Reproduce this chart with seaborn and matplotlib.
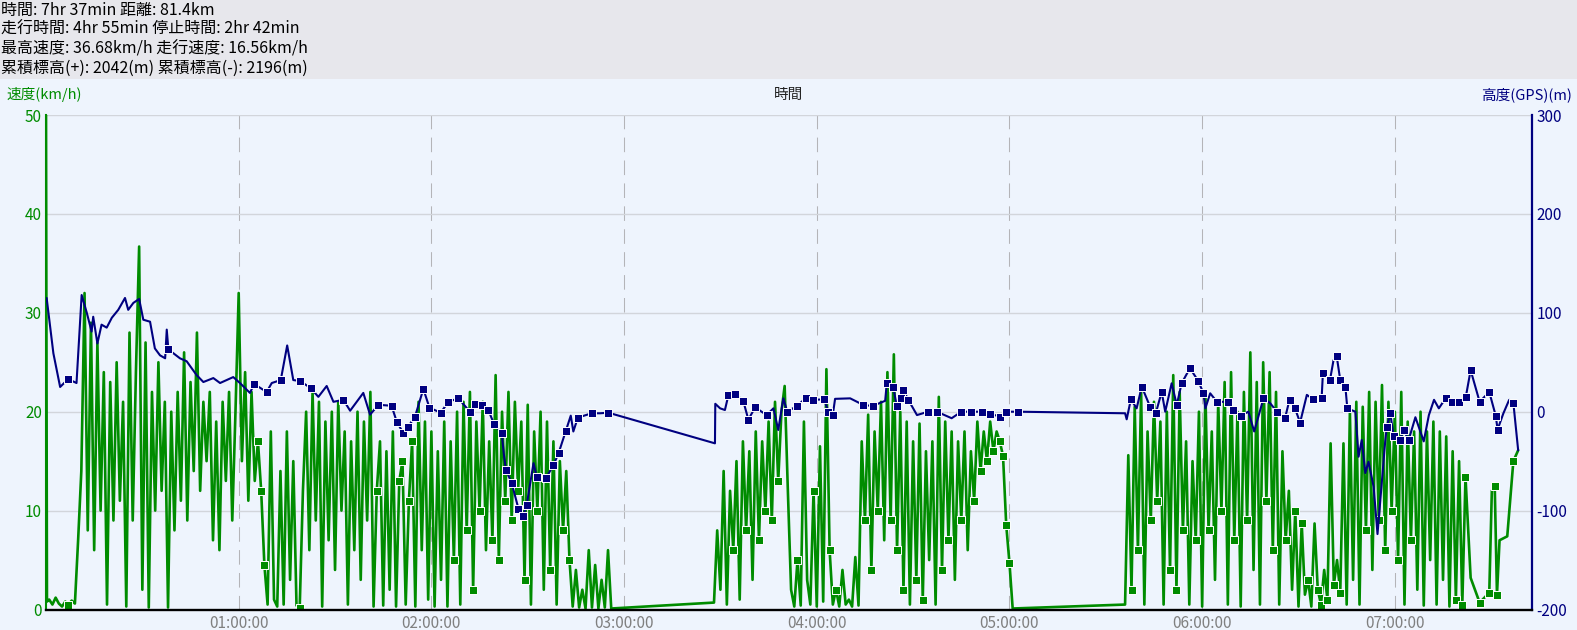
import numpy as np
import pandas as pd
import matplotlib
matplotlib.use('Agg')
import matplotlib.pyplot as plt
from matplotlib.patches import Rectangle
import seaborn as sns

# ---------- estilo ----------
sns.set_style('white')
plt.rcParams['font.family'] = ['Noto Sans CJK JP', 'DejaVu Sans']

GREEN = '#008C00'
NAVY = '#000080'
BG = '#EEF4FD'
HEADER = '#E7E7EC'
GRID = '#D2D5DB'
VGRID = '#B4B4B8'

# ---------- dados ----------
header_lines = [
    '時間: 7hr 37min 距離: 81.4km',
    '走行時間: 4hr 55min 停止時間: 2hr 42min',
    '最高速度: 36.68km/h 走行速度: 16.56km/h',
    '累積標高(+): 2042(m) 累積標高(-): 2196(m)',
]
hour_ticks = [60, 120, 180, 240, 300, 360, 420]
hour_labels = ['01:00:00', '02:00:00', '03:00:00', '04:00:00', '05:00:00', '06:00:00', '07:00:00']
speed_ticks = [0, 10, 20, 30, 40, 50]
alt_ticks = [-200, -100, 0, 100, 200, 300]
x_max = 462.8  # minutes

# speed (km/h) - start, parked
spd_start_t = [0, 0.3, 1, 2, 3, 4, 5, 6, 7, 8, 9]
spd_start_v = [50, 0.8, 1.0, 0.5, 1.2, 0.6, 0.3, 0.8, 0.5, 0.9, 0.6]

# riding block 1, one value per minute from t=10
spd_a = [7, 14, 32, 8, 29, 6, 27, 10, 24, 0.5,
         23, 9, 25, 11, 21, 0.3, 28, 9, 24, 36.7,
         2, 27, 0.2, 22, 10, 25, 12, 21, 0.2, 20,
         8, 22, 11, 26, 9, 23, 14, 28, 12, 21,
         15, 22, 7, 19, 6, 21, 13, 22, 9, 20,
         32, 15, 24, 11, 22, 13, 17, 12, 4.5, 0.5,
         18, 1, 0.3, 14, 0.5, 18, 3, 15, 0.4, 0.2,
         12, 20, 6, 22, 9, 21, 0.3, 19, 7, 20,
         4, 21, 10, 18, 0.5, 17, 6, 20, 3, 19,
         9, 22, 0.3, 12, 17, 0.4, 16, 2, 18, 0.3,
         13, 15, 0.5, 11, 17, 0.3, 21, 6, 19, 1,
         18, 0.3, 16, 3, 19, 0.3, 17, 5, 20, 0.5,
         21, 8, 22, 2, 19, 10, 21, 6, 17, 7,
         23.7, 5, 20, 11, 22, 9, 21, 12, 19, 3,
         20.7, 0.5, 18, 10, 20, 2, 19, 4, 17, 0.5,
         15, 8, 14, 5, 0.3, 4, 0.2, 2, 0.1, 6,
         0.2, 4.5, 0.1, 3, 0.2, 6, 0.1]
spd_a_start = 10

# riding block 2, from t=208
spd_b = [0.7, 8, 2, 14, 0.5, 12, 6, 15, 1, 17,
         8, 16, 3, 18, 7, 17, 10, 19, 9, 21,
         13, 20, 22.6, 12, 2, 0.3, 5, 0.4, 19, 3,
         0.5, 12, 0.3, 16.5, 0.8, 24.3, 6, 0.5, 2, 0.3,
         4, 0.5, 1, 0.3, 5.3, 0.4, 17, 9, 19.7, 4,
         18, 10, 21, 7, 24, 9, 25.8, 6, 20, 2,
         19, 0.5, 17, 3, 18.8, 1, 16, 5, 17, 0.5,
         21.5, 4, 19, 7, 18, 3, 17, 9, 18, 6,
         16, 11, 19, 14, 18, 15, 19, 16, 18, 17,
         15.5, 8.5, 4.7, 0.1]
spd_b_start = 208

# riding block 3, from t=336
spd_c = [0.5, 15.6, 2, 20.5, 6, 22, 0.5, 18, 9, 21,
         11, 19, 0.5, 20, 4, 23.7, 2, 22, 8, 17,
         0.5, 15, 7, 20, 0.3, 22, 8, 18, 3, 21,
         10, 23, 0.5, 24, 7, 20, 0.3, 22, 9, 26,
         4, 23, 0.5, 25, 11, 24, 6, 22, 0.5, 16,
         7, 12, 2, 10, 0.3, 8.7, 1.5, 3, 0.3, 8.7,
         2, 0.5, 4, 1, 16.8, 2.5, 5, 1.7, 16.8, 0.5,
         20, 3, 21, 0.5, 20.5, 8, 22, 4, 21, 9,
         22.7, 6, 21, 10, 20, 5, 22, 0.5, 19, 7,
         18, 2, 20, 0.4, 18, 5, 19, 0.5, 18, 3,
         17.5, 0.3, 16, 1, 15, 0.5, 13.4]
spd_c_start = 336

spd_tail_t = [443.6, 446.4, 449.4, 450.2, 451.1, 451.8, 452.6, 455.0, 456.9, 458.4]
spd_tail_v = [3.2, 0.7, 1.7, 12, 12.5, 1.5, 7, 7.4, 15, 16.1]

spd_mark_t = [7, 66, 67, 68, 79, 103, 110, 111, 113, 114, 127, 131, 133, 135, 139, 141,
              143, 145, 147, 149, 153, 157, 161, 163, 214, 218, 222, 224, 226, 228, 234,
              239, 244, 246, 255, 257, 259, 263, 265, 267, 271, 273, 279, 281, 285, 289,
              291, 293, 295, 297, 298, 299, 300, 338, 340, 344, 346, 350, 352, 354, 358,
              362, 366, 370, 374, 380, 382, 386, 389, 391, 393, 396, 397, 399, 401, 403,
              411, 415, 417, 419, 421, 425, 439, 441, 442, 446.4, 449.4, 451.1, 451.8, 456.9]

# altitude GPS (m)
alt_t = [0.2, 2.3, 4.4, 6.9, 9.5, 11.1, 12.7, 14.2, 14.7, 16.0, 17.3, 18.9, 20.5, 22.5,
         24.6, 25.6, 27.2, 29.0, 30.3, 32.4, 33.9, 35.5, 37.1, 37.6, 38.1, 41.7, 43.8,
         46.9, 49.0, 52.1, 54.2, 58.3, 60.4, 63.5, 64.8, 68.7, 70.3, 73.1, 75.1, 77.0,
         79.1, 82.4, 84.8, 87.4, 89.5, 92.6, 94.7, 98.8, 100.9, 103.5, 107.6, 109.2,
         111.3, 112.8, 114.9, 117.5, 119.4, 122.9, 125.3, 128.4, 132.0, 133.6, 135.7,
         137.7, 139.5, 141.9, 142.6, 143.2, 145.0, 147.1, 148.6, 149.7, 151.8, 152.8,
         155.7, 158.0, 159.6, 161.8, 163.4, 164.2, 165.6, 169.9, 172.5, 175.1,
         208.3, 208.4, 209.9, 211.4, 212.5, 214.6, 217.1, 218.7, 220.8, 224.4, 226.5,
         228.0, 229.6, 230.8, 233.8, 236.7, 238.9, 242.3, 243.6, 245.0, 245.7, 250.4,
         254.5, 257.4, 261.3, 261.8, 263.8, 264.9, 266.3, 267.0, 268.5, 271.2, 274.7,
         277.4, 282.0, 285.0, 288.0, 291.3, 294.0, 297.0, 299.0, 301.0, 302.8,
         336.0, 336.5, 337.8, 339.6, 341.2, 343.8, 345.6, 347.4, 348.5, 350.5, 352.1,
         353.6, 356.2, 358.8, 360.4, 361.0, 362.5, 364.6, 368.2, 369.7, 372.0, 374.4,
         376.2, 379.1, 381.2, 383.3, 385.8, 387.2, 388.9, 390.5, 392.6, 394.6, 397.2,
         397.6, 399.8, 400.9, 401.9, 403.0, 404.6, 405.2, 407.7, 408.7, 409.7, 410.8,
         411.8, 413.4, 414.6, 416.0, 417.0, 417.5, 418.6, 419.6, 421.6, 422.7, 424.3,
         426.4, 429.0, 430.6, 432.2, 433.7, 435.8, 437.9, 440.0, 442.1, 443.6, 446.4,
         449.4, 451.4, 452.0, 453.8, 455.6, 456.9, 458.4]
alt_v = [115, 59, 25, 33, 29, 118, 100, 81, 96, 69, 88, 85, 95, 103,
         115, 103, 110, 114, 93, 91, 64, 57, 54, 83, 63, 54, 51,
         37, 30, 34, 29, 35, 29, 19, 28, 20, 29, 32, 67, 32,
         31, 24, 15, 26, 10, 12, 1, 19, -3, 7, 6, -10,
         -22, -15, -5, 23, 4, -1, 10, 13.5, 0, 8, 7,
         2, -12.5, -22, -44, -59, -72, -98, -105, -94, -52, -66,
         -67, -54, -42, -20, -4, -20, -6, -1.6, -1.6, -1,
         -32, 8, 3.4, 1.7, 17, 18, 11, -8, 4.4, -3.4, 3.4,
         -18.5, 13.5, 0, 5.8, 14, 12, 12.5, 0, -3, 13, 13.5,
         6.8, 5.8, 11, 28.7, 25, 5.8, 13.5, 22, 12, -3.4, 0,
         0, -6.6, 0, 0, 0, -2, -5, 0, 0, 0,
         -1.6, -7.7, 12.5, 3.4, 25.3, 5, -1, 20, 0, 28.7, 6.8,
         28.7, 44, 31, 18.6, 3.4, 18.6, 10, 10, 1.7, -4, 0,
         -20, 13.5, 8.5, 0, -6.6, 12, 3.4, -11, 17, 12.5, 13.5,
         39, 32, 52, 56, 32, 25, 3.4, 0, -45.5, -28.6, -62,
         -50.6, -76, -123.7, -69, -30, -15, -1.6, -25, -28.6, -18.5, -28.6,
         -5.6, -30, -3.4, 12, 3.4, 13.5, 10, 10, 15, 42, 10,
         20, -4, -18, -1.6, 12, 9, -39]
alt_mark_t = [6.9, 38.1, 64.8, 68.7, 73.1, 79.1, 82.4, 92.6, 103.5, 107.6, 109.2, 111.3,
              112.8, 114.9, 117.5, 119.4, 122.9, 125.3, 128.4, 132.0, 133.6, 135.7, 137.7,
              139.5, 141.9, 143.2, 145.0, 147.1, 148.6, 149.7, 152.8, 155.7, 158.0, 159.6,
              161.8, 165.6, 169.9, 175.1, 212.5, 214.6, 217.1, 218.7, 220.8, 224.4, 230.8,
              233.8, 236.7, 238.9, 242.3, 243.6, 245.0, 254.5, 257.4, 261.8, 263.8, 264.9,
              266.3, 267.0, 268.5, 274.7, 277.4, 285.0, 288.0, 291.3, 294.0, 297.0, 299.0,
              302.8, 337.8, 341.2, 343.8, 345.6, 347.4, 352.1, 353.6, 356.2, 358.8, 360.4,
              364.6, 368.2, 369.7, 372.0, 379.1, 383.3, 385.8, 387.2, 388.9, 390.5, 394.6,
              397.2, 397.6, 399.8, 401.9, 403.0, 404.6, 405.2, 417.5, 418.6, 419.6, 421.6,
              422.7, 424.3, 435.8, 437.9, 440.0, 442.1, 443.6, 446.4, 449.4, 451.4, 452.0,
              456.9]

# ---------- montar tabelas ----------
spd_t = np.concatenate([
    spd_start_t,
    np.arange(len(spd_a)) + spd_a_start,
    np.arange(len(spd_b)) + spd_b_start,
    np.arange(len(spd_c)) + spd_c_start,
    spd_tail_t,
])
spd_v = np.concatenate([spd_start_v, spd_a, spd_b, spd_c, spd_tail_v])
spd = pd.DataFrame({'t': spd_t.astype(float), 'v': spd_v})
spd['mark'] = np.isin(spd['t'].round(1), np.round(spd_mark_t, 1))

alt = pd.DataFrame({'t': alt_t, 'v': alt_v})
alt['mark'] = np.isin(alt['t'].round(1), np.round(alt_mark_t, 1))

# ---------- figura ----------
fig = plt.figure(figsize=(15.77, 6.30), dpi=100, facecolor=BG)
fig.add_artist(Rectangle((0, 1 - 79 / 630), 1, 79 / 630, transform=fig.transFigure,
                         facecolor=HEADER, edgecolor='none', zorder=0))

ax = fig.add_axes([46 / 1577, 20.5 / 630, 1486.3 / 1577, 494.5 / 630])
ax.set_facecolor(BG)
ax2 = ax.twinx()

sns.lineplot(data=spd, x='t', y='v', ax=ax, color=GREEN, lw=1.9,
             estimator=None, sort=False, zorder=2)
sns.scatterplot(data=spd[spd['mark']], x='t', y='v', ax=ax, color=GREEN, marker='s',
                s=30, edgecolor='white', linewidth=0.7, zorder=3)

sns.lineplot(data=alt, x='t', y='v', ax=ax2, color=NAVY, lw=1.5,
             estimator=None, sort=False, zorder=2)
sns.scatterplot(data=alt[alt['mark']], x='t', y='v', ax=ax2, color=NAVY, marker='s',
                s=30, edgecolor='white', linewidth=0.7, zorder=3)

ax.set_xlim(0, x_max)
ax.set_ylim(0, 50)
ax2.set_ylim(-200, 300)

ax.set_xticks(hour_ticks)
ax.set_xticklabels(hour_labels)
ax.set_yticks(speed_ticks)
ax.set_yticklabels([str(v) for v in speed_ticks])
ax2.set_yticks(alt_ticks)
ax2.set_yticklabels([str(v) for v in alt_ticks])

ax.set_axisbelow(True)
ax.yaxis.grid(True, color=GRID, lw=1)
ax.xaxis.grid(True, color=VGRID, lw=0.75, linestyle=(0, (14, 8)))

ax.tick_params(axis='y', length=0, pad=3, labelcolor=GREEN, labelsize=11)
ax.tick_params(axis='x', length=0, pad=4, labelcolor='#808080', labelsize=11)
ax2.tick_params(axis='y', length=0, pad=3, labelcolor=NAVY, labelsize=11)

for a in (ax, ax2):
    a.set_xlabel('')
    a.set_ylabel('')
    a.spines['top'].set_visible(False)
ax.spines['right'].set_visible(False)
ax.spines['bottom'].set_visible(False)
ax.spines['left'].set_color(GREEN)
ax.spines['left'].set_linewidth(1.5)
ax2.spines['left'].set_visible(False)
ax2.spines['right'].set_color(NAVY)
ax2.spines['right'].set_linewidth(1.6)
ax2.spines['bottom'].set_color('black')
ax2.spines['bottom'].set_linewidth(1.7)

# ---------- textos ----------
for i, line in enumerate(header_lines):
    fig.text(1 / 1577, 1 - (10 + 19.6 * i) / 630, line, fontsize=11.5, va='center', ha='left',
             color='black')

fig.text(6 / 1577, 1 - 95 / 630, '速度(km/h)', fontsize=10.5, color=GREEN, va='center', ha='left')
fig.text(1572 / 1577, 1 - 95 / 630, '高度(GPS)(m)', fontsize=10.5, color=NAVY, va='center', ha='right')
fig.text(789 / 1577, 1 - 95 / 630, '時間', fontsize=10.5, color='#222222', va='center', ha='center')

fig.savefig('out.png', dpi=100, facecolor=BG)
